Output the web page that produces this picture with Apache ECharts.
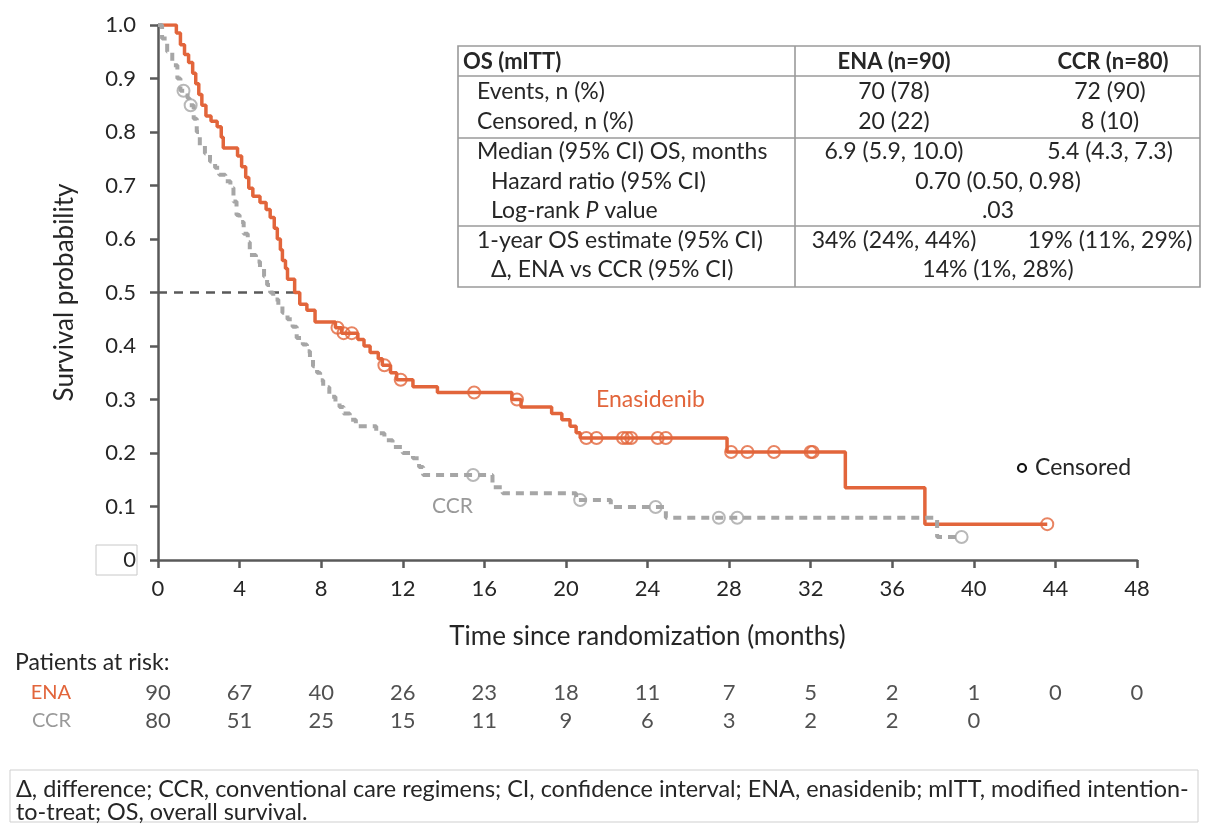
<!DOCTYPE html>
<html><head><meta charset="utf-8">
<script src="https://cdn.jsdelivr.net/npm/echarts@6/dist/echarts.min.js"></script>
<style>html,body{margin:0;padding:0;background:#fff}#c{width:1205px;height:826px}</style>
</head><body><div id="c"></div>
<script>
// ---- data ----
const enaSteps = [[0,1.0],[0.9,0.985],[1.1,0.963],[1.3,0.945],[1.5,0.93],[1.7,0.91],[1.85,0.89],[2.0,0.87],[2.15,0.85],[2.35,0.83],[2.6,0.82],[2.9,0.81],[3.1,0.79],[3.2,0.77],[3.9,0.755],[4.1,0.735],[4.3,0.715],[4.45,0.695],[4.65,0.68],[5.0,0.668],[5.3,0.655],[5.5,0.64],[5.7,0.62],[5.85,0.6],[6.0,0.58],[6.1,0.56],[6.25,0.545],[6.35,0.525],[6.7,0.5],[6.95,0.478],[7.3,0.467],[7.7,0.445],[8.7,0.434],[9.0,0.424],[9.8,0.412],[10.1,0.4],[10.4,0.388],[10.8,0.376],[11.0,0.364],[11.4,0.35],[11.7,0.337],[12.5,0.324],[13.7,0.313],[17.35,0.3],[17.8,0.286],[19.3,0.274],[19.8,0.262],[20.2,0.25],[20.5,0.238],[20.7,0.228],[27.9,0.202],[33.7,0.135],[37.6,0.067],[43.6,0.067]];
const enaCensor = [[8.8,0.434],[9.1,0.424],[9.5,0.424],[11.1,0.364],[11.9,0.337],[15.5,0.313],[17.6,0.3],[21.0,0.228],[21.5,0.228],[22.8,0.228],[23.0,0.228],[23.2,0.228],[24.5,0.228],[24.9,0.228],[28.1,0.202],[28.9,0.202],[30.2,0.202],[32.0,0.202],[32.1,0.202],[43.6,0.067]];
const ccrSteps = [[0,1.0],[0.2,0.975],[0.45,0.95],[0.7,0.925],[0.95,0.9],[1.1,0.877],[1.45,0.863],[1.55,0.85],[1.75,0.825],[1.9,0.8],[2.05,0.775],[2.3,0.76],[2.55,0.745],[2.8,0.733],[3.0,0.72],[3.3,0.708],[3.55,0.696],[3.7,0.67],[3.85,0.645],[4.0,0.632],[4.2,0.61],[4.4,0.594],[4.5,0.57],[4.8,0.558],[5.0,0.546],[5.2,0.53],[5.35,0.514],[5.5,0.5],[5.65,0.487],[5.9,0.475],[6.1,0.462],[6.35,0.45],[6.6,0.436],[6.8,0.415],[7.1,0.403],[7.3,0.39],[7.45,0.374],[7.6,0.362],[7.8,0.35],[7.95,0.336],[8.1,0.323],[8.4,0.305],[8.7,0.295],[8.9,0.286],[9.1,0.274],[9.4,0.262],[9.7,0.25],[10.7,0.237],[11.1,0.224],[11.5,0.211],[12.0,0.2],[12.5,0.19],[12.8,0.174],[13.0,0.159],[16.4,0.136],[16.9,0.125],[20.5,0.112],[22.2,0.099],[24.9,0.079],[38.2,0.043],[39.4,0.043]];
const ccrCensor = [[1.25,0.877],[1.6,0.85],[15.45,0.159],[20.7,0.112],[24.4,0.099],[27.5,0.079],[28.4,0.079],[39.4,0.043]];
const enaMedian = 6.85;
const riskTimes = [0,4,8,12,16,20,24,28,32,36,40,44,48];
const enaAtRisk = [90,67,40,26,23,18,11,7,5,2,1,0,0];
const ccrAtRisk = [80,51,25,15,11,9,6,3,2,2,0];
const tableHeader = ['OS (mITT)','ENA (n=90)','CCR (n=80)'];
const tableRows = [
  ['Events, n (%)','70 (78)','72 (90)'],
  ['Censored, n (%)','20 (22)','8 (10)'],
  ['Median (95% CI) OS, months','6.9 (5.9, 10.0)','5.4 (4.3, 7.3)'],
  ['Hazard ratio (95% CI)','0.70 (0.50, 0.98)'],
  ['Log-rank P value','.03'],
  ['1-year OS estimate (95% CI)','34% (24%, 44%)','19% (11%, 29%)'],
  ['Δ, ENA vs CCR (95% CI)','14% (1%, 28%)']
];
const tableIndent = [1,1,1,2,2,1,2];
const footnote = ['Δ, difference; CCR, conventional care regimens; CI, confidence interval; ENA, enasidenib; mITT, modified intention-','to-treat; OS, overall survival.'];

// ---- styling ----
const FONT = 'Lato, "Noto Sans", sans-serif';
const ORANGE = '#E2653B';
const GRAY = '#A6A6A6';
const AX = '#595959';
const TXT = '#262626';
const FS = 22;
const TFS = 23;

const chart = echarts.init(document.getElementById('c'));

const graphics = [];
// table
const tL=458,tR=1200,tT=46,tB=287,divX=795;
const lineStyle={stroke:'#9a9a9a',lineWidth:1.6};
graphics.push({type:'rect',shape:{x:tL,y:tT,width:tR-tL,height:tB-tT},style:{fill:'#fff',stroke:'#9a9a9a',lineWidth:1.6},z:10});
graphics.push({type:'line',shape:{x1:divX,y1:tT,x2:divX,y2:tB},style:lineStyle,z:11});
[76,138,226].forEach(y=>graphics.push({type:'line',shape:{x1:tL,y1:y,x2:tR,y2:y},style:lineStyle,z:11}));
const hdrY=62;
graphics.push({type:'text',x:463,y:hdrY,style:{text:tableHeader[0],font:'bold '+FS+'px '+FONT,fill:TXT,verticalAlign:'middle'},z:12});
graphics.push({type:'text',x:894,y:hdrY,style:{text:tableHeader[1],font:'bold '+FS+'px '+FONT,fill:TXT,align:'center',verticalAlign:'middle'},z:12});
graphics.push({type:'text',x:1113,y:hdrY,style:{text:tableHeader[2],font:'bold '+FS+'px '+FONT,fill:TXT,align:'center',verticalAlign:'middle'},z:12});
const rowY=[92,122,152,182,211,241,270];
tableRows.forEach((r,i)=>{
  const x = tableIndent[i]===1?477:491;
  if(r[0].indexOf(' P ')>=0){
    const parts=r[0].split(' P ');
    graphics.push({type:'text',x:x,y:rowY[i],style:{text:'{n|'+parts[0]+' }{i|P}{n| '+parts[1]+'}',rich:{n:{font:TFS+'px '+FONT,fill:TXT},i:{font:'italic '+TFS+'px '+FONT,fill:TXT}},verticalAlign:'middle'},z:12});
  } else {
    graphics.push({type:'text',x:x,y:rowY[i],style:{text:r[0],font:TFS+'px '+FONT,fill:TXT,verticalAlign:'middle'},z:12});
  }
  if(r.length===3){
    graphics.push({type:'text',x:894,y:rowY[i],style:{text:r[1],font:TFS+'px '+FONT,fill:TXT,align:'center',verticalAlign:'middle'},z:12});
    graphics.push({type:'text',x:1110,y:rowY[i],style:{text:r[2],font:TFS+'px '+FONT,fill:TXT,align:'center',verticalAlign:'middle'},z:12});
  } else {
    graphics.push({type:'text',x:998,y:rowY[i],style:{text:r[1],font:TFS+'px '+FONT,fill:TXT,align:'center',verticalAlign:'middle'},z:12});
  }
});
// labels
graphics.push({type:'text',x:596,y:400,style:{text:'Enasidenib',font:'23px '+FONT,fill:ORANGE,verticalAlign:'middle'}});
graphics.push({type:'text',x:432,y:506,style:{text:'CCR',font:'21px '+FONT,fill:'#999999',verticalAlign:'middle'}});
graphics.push({type:'circle',shape:{cx:1022,cy:468,r:4},style:{fill:'none',stroke:'#111',lineWidth:2.2}});
graphics.push({type:'text',x:1035,y:468,style:{text:'Censored',font:'23px '+FONT,fill:TXT,verticalAlign:'middle'}});
// zero label box
graphics.push({type:'rect',shape:{x:96,y:545,width:41,height:30},style:{fill:'none',stroke:'#c8c8c8',lineWidth:1}});
// at risk title
graphics.push({type:'text',x:15,y:663,style:{text:'Patients at risk:',font:'23px '+FONT,fill:TXT,verticalAlign:'middle'}});
// footnote
graphics.push({type:'rect',shape:{x:10,y:770,width:1188,height:52},style:{fill:'none',stroke:'#cfcfcf',lineWidth:1}});
footnote.forEach((t,i)=>graphics.push({type:'text',x:16,y:789+i*23,style:{text:t,font:'23.4px '+FONT,fill:TXT,verticalAlign:'middle'}}));

const enaRisk = riskTimes.slice(0,enaAtRisk.length).map((t,i)=>[t,'ENA',enaAtRisk[i]]);
const ccrRisk = riskTimes.slice(0,ccrAtRisk.length).map((t,i)=>[t,'CCR',ccrAtRisk[i]]);

chart.setOption({
  animation:false,
  textStyle:{fontFamily:FONT},
  grid:[{left:158,right:68,top:25,bottom:266},{left:158,right:68,top:679,height:56}],
  xAxis:[{type:'value',min:0,max:48,interval:4,gridIndex:0,
    axisLine:{lineStyle:{color:AX,width:2.5}},axisTick:{show:true,length:8,lineStyle:{color:AX,width:2.5}},
    axisLabel:{fontSize:FS,color:TXT,margin:18,fontFamily:FONT},splitLine:{show:false},
    name:'Time since randomization (months)',nameLocation:'middle',nameGap:64,nameTextStyle:{fontSize:26,color:TXT,fontFamily:FONT}},
    {type:'value',min:0,max:48,gridIndex:1,show:false}],
  yAxis:[{type:'value',min:0,max:1,interval:0.1,gridIndex:0,
    axisLine:{show:true,lineStyle:{color:AX,width:2.5}},axisTick:{show:true,length:8,lineStyle:{color:AX,width:2.5}},
    axisLabel:{fontSize:FS,color:TXT,margin:22,fontFamily:FONT,formatter:v=>v===0?'0':v.toFixed(1)},splitLine:{show:false},
    name:'Survival probability',nameLocation:'middle',nameGap:80,nameTextStyle:{fontSize:26,color:TXT,fontFamily:FONT}},
    {type:'category',data:['ENA','CCR'],inverse:true,gridIndex:1,axisLine:{show:false},axisTick:{show:false},
     axisLabel:{margin:87,fontSize:20,fontFamily:FONT,color:(v)=>v==='ENA'?ORANGE:'#999999'}}],
  series:[
    {type:'line',name:'ENA',xAxisIndex:0,yAxisIndex:0,step:'end',data:enaSteps,showSymbol:false,symbol:'none',
     lineStyle:{color:ORANGE,width:3.5},z:3},
    {type:'scatter',xAxisIndex:0,yAxisIndex:0,data:enaCensor,symbol:'circle',symbolSize:12,
     itemStyle:{color:'rgba(0,0,0,0)',borderColor:ORANGE,borderWidth:2},z:4},
    {type:'line',name:'CCR',xAxisIndex:0,yAxisIndex:0,step:'end',data:ccrSteps,showSymbol:false,symbol:'none',
     lineStyle:{color:GRAY,width:4,type:[8,6]},z:5},
    {type:'scatter',xAxisIndex:0,yAxisIndex:0,data:ccrCensor,symbol:'circle',symbolSize:12,
     itemStyle:{color:'rgba(0,0,0,0)',borderColor:GRAY,borderWidth:2},z:6},
    {type:'line',xAxisIndex:0,yAxisIndex:0,data:[[0,0.5],[enaMedian,0.5]],symbol:'none',
     lineStyle:{color:AX,width:2.5,type:[9,7]},z:2},
    {type:'scatter',xAxisIndex:1,yAxisIndex:1,data:enaRisk.concat(ccrRisk),symbolSize:0,
     label:{show:true,position:'inside',fontSize:FS,color:TXT,fontFamily:FONT,formatter:p=>String(p.value[2])}}
  ],
  graphic:graphics
});
</script></body></html>
